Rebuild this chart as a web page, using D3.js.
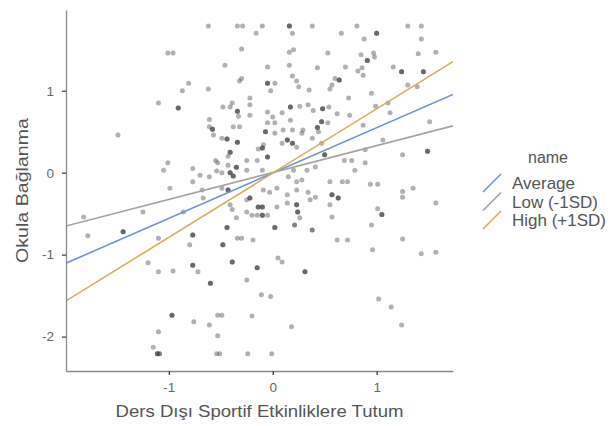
<!DOCTYPE html>
<html><head><meta charset="utf-8">
<script src="https://cdn.jsdelivr.net/npm/d3@7"></script>
<style>body{margin:0;background:#fff} text{font-family:"Liberation Sans",Arial,sans-serif}</style>
</head><body><svg id="c" width="616" height="426"></svg>
<script>
// ---- data ----
const xTicks = [-1, 0, 1];
const yTicks = [-2, -1, 0, 1];
const xLabel = "Ders Dışı Sportif Etkinliklere Tutum";
const yLabel = "Okula Bağlanma";
const legendTitle = "name";
const seriesNames = ["Average", "Low (-1SD)", "High (+1SD)"];
const seriesSlopes = [0.553, 0.328, 0.784];
const seriesIntercepts = [-0.004, 0.002, -0.005];
// points: [x, y, number of overlapping observations]
const points = [
[-1.01,1.46],[-0.96,1.46],[-0.81,1.09],[-0.87,1.00],[-0.91,0.79,3],[-1.10,0.85],
[-0.62,1.79],[-0.34,1.79],[-0.29,1.79],[-0.10,1.79],[0.16,1.79,3],[0.38,1.79],
[-0.16,1.70],[0.19,1.70],[-0.30,1.51],[0.16,1.47],[0.20,1.50],[-0.46,1.31],[-0.05,1.29],[0.16,1.31],[0.43,1.28],[-0.30,1.15],[-0.32,1.12],[-0.05,1.09,3],[0.02,1.09],[0.19,1.18],[0.23,1.12],[-0.62,1.02],[-0.02,1.00],[0.25,1.05],[0.35,1.01],
[0.81,1.79],[1.30,1.79],[1.43,1.79],[0.66,1.70],[1.00,1.70,3],[0.88,1.63],[1.43,1.63],[0.53,1.46],[0.85,1.44],[0.97,1.46],[0.98,1.41],[0.91,1.37,3],[1.40,1.45],[1.57,1.47],[0.70,1.29],[0.86,1.28],[0.82,1.24],[0.87,1.19],[1.16,1.29],[1.24,1.23,3],[1.45,1.23,3],[0.60,1.15],[0.64,1.13,3],[0.57,1.07],[0.55,1.02],[1.30,1.07],[1.39,1.05],[0.95,0.97],
[0.73,0.91],[0.99,0.81],[1.11,0.85],[1.13,0.73],[1.51,0.62],[0.87,0.58],[1.06,0.40],[0.89,0.28],[1.49,0.26,3],[1.25,0.22],[0.76,0.15],[0.89,0.12],[0.79,0.03],[0.94,-0.14],[1.01,-0.14],[1.35,-0.19],[1.25,-0.23],[1.25,-0.30],[1.57,-0.37],[1.01,-0.44],[1.05,-0.51,3],[0.95,-0.64],[1.25,-0.81],[0.96,-0.94],[1.43,-0.99],[1.57,-0.97],[0.74,0.70],
[-0.15,-1.16,3],[0.31,-1.21,3],[-0.25,-1.31],[-0.60,-1.35,3],[-0.11,-1.49],[-0.02,-1.51],[1.02,-1.54],[1.14,-1.64],[-0.53,-1.74],[-0.49,-1.74],[-0.20,-1.75],[-0.61,-1.86],[0.18,-1.88],[1.24,-1.86],[-0.53,-1.99],[-0.54,-2.21],[-0.51,-2.21],[-0.24,-2.21],[-0.01,-2.21],
[-1.49,0.46],[-1.82,-0.54],[-1.78,-0.77],[-1.44,-0.72,3],[-1.25,-0.48],[-1.20,-1.10],
[-1.10,-1.21],[-0.96,-1.20],[-0.77,-1.13,3],[-0.72,-1.21],[-0.97,-1.74,3],[-0.76,-1.82],[-1.10,-1.94],[-1.15,-2.13],[-1.11,-2.21,3],[-1.09,-2.21,2],
[-0.61,0.65],[-0.61,0.56],[-0.58,0.53,3],[-0.57,0.46],[-0.48,0.80],[-0.41,0.80],[-0.39,0.85],[-0.34,0.75,3],[-0.33,0.69],[-0.38,0.56],[-0.32,0.56],[-0.49,0.42],[-0.44,0.41,3],[-0.34,0.37,3],[-0.41,0.25,3],[-0.43,0.20],[-0.55,0.15],[-0.53,0.12],[-0.43,0.09],[-0.35,0.065,3],[-0.25,0.15],[-1.01,0.12],[-1.05,0.03],[-0.77,0.05],[-0.70,-0.03],[-0.61,-0.05],[-0.54,0.02],[-0.49,0.00],[-0.41,0.00,3],[-0.38,-0.04,3],[-0.25,0.03],
[-0.99,-0.19],[-0.77,-0.11],[-0.68,-0.21],[-0.67,-0.31],[-0.49,-0.19],[-0.43,-0.21,3],[-0.41,-0.39],[-0.39,-0.45],[-0.86,-0.48],[-1.10,-0.80],[-0.77,-0.76,3],[-0.80,-0.88],[-0.44,-0.67,3],[-0.48,-0.88,3],[-0.34,-0.80],[-0.30,-0.80],[-0.35,-0.55],[-0.39,-1.09,3],[-0.25,-0.48],[-0.25,-0.33],
[-0.22,0.91],[0.17,0.80,3],[0.26,0.81],[0.34,0.83],[0.39,0.76],[0.48,0.78,3],[0.54,0.80],[0.62,0.72],[-0.05,0.74],[0.00,0.68],[0.09,0.73],[-0.05,0.61],[0.02,0.61],[0.17,0.64],[0.47,0.62,3],[0.53,0.61],[-0.07,0.50,3],[0.02,0.48],[0.10,0.52],[0.19,0.52],[0.28,0.48],[0.29,0.52],[0.43,0.55,3],[0.44,0.50],[0.14,0.40,3],[0.19,0.36,3],[0.09,0.36],[0.38,0.42],[-0.09,0.34],[-0.14,0.29],[-0.10,0.30,3],[-0.05,0.19,3],[-0.15,0.15],[0.23,0.31],[0.47,0.36],[0.50,0.22,3],[0.33,0.03],[0.20,0.03],[0.41,0.07],[-0.10,0.03],[-0.22,0.83],[-0.22,0.70],[0.69,0.15],
[-0.22,-0.31,3],[-0.14,-0.42,3],[-0.10,-0.42,3],[-0.15,-0.52],[-0.10,-0.52,3],[-0.05,-0.52],[-0.09,-0.21],[-0.03,-0.24],[0.04,-0.42],[0.04,-0.19],[0.14,-0.27],[0.14,-0.37],[0.23,-0.11],[0.23,-0.21],[0.23,-0.39,3],[0.24,-0.48,3],[0.34,-0.24],[0.36,-0.33],[0.41,-0.30],[0.55,-0.11],[0.67,-0.11],[0.72,-0.11],[0.57,-0.27,3],[0.63,-0.31,3],[0.55,-0.39],[0.57,-0.54],[0.02,-0.67,3],[0.21,-0.64,2],[0.38,-0.70,2],[-0.19,-0.82],[0.72,-0.82],[0.62,-0.82],[0.05,-1.04],[0.09,-1.09],[-0.20,-0.52],[0.28,-0.09],[0.15,-0.05],[0.26,-0.55]
];

// ---- styles / layout ----
const seriesColors = ["#7093d6", "#a3a3a3", "#d9ad5e"];
const W = 616, H = 426;
const margin = {left: 66, top: 10, right: 163, bottom: 55};
const xDomain = [-1.99, 1.735], yDomain = [-2.42, 1.985];

const svg = d3.select("#c");
const x = d3.scaleLinear().domain(xDomain).range([margin.left, W - margin.right]);
const y = d3.scaleLinear().domain(yDomain).range([H - margin.bottom, margin.top]);

const defs = svg.append("defs");
defs.append("clipPath").attr("id", "clip")
  .append("rect").attr("x", margin.left).attr("y", margin.top)
  .attr("width", W - margin.left - margin.right).attr("height", H - margin.top - margin.bottom);

// points (repeat overlapping observations)
const pts = [];
points.forEach(p => { const n = p[2] || 1; for (let i = 0; i < n; i++) pts.push(p); });
svg.append("g").selectAll("circle").data(pts).join("circle")
  .attr("cx", d => x(d[0])).attr("cy", d => y(d[1])).attr("r", 2.5)
  .attr("fill", "#444").attr("fill-opacity", 0.42);

// regression lines
const lines = svg.append("g").attr("clip-path", "url(#clip)");
seriesNames.forEach((name, i) => {
  const ends = xDomain.map(v => [v, seriesIntercepts[i] + seriesSlopes[i] * v]);
  lines.append("path").attr("d", d3.line().x(d => x(d[0])).y(d => y(d[1]))(ends))
    .attr("fill", "none").attr("stroke", seriesColors[i]).attr("stroke-width", 1.6);
});

// axes
const fmt = d => d < 0 ? "-" + Math.abs(d) : String(d);
const xAxis = svg.append("g").attr("transform", `translate(0,${H - margin.bottom})`)
  .call(d3.axisBottom(x).tickValues(xTicks).tickFormat(fmt).tickSize(4).tickPadding(7).tickSizeOuter(0));
const yAxis = svg.append("g").attr("transform", `translate(${margin.left},0)`)
  .call(d3.axisLeft(y).tickValues(yTicks).tickFormat(fmt).tickSize(4).tickPadding(8).tickSizeOuter(0));
[xAxis, yAxis].forEach(a => {
  a.select(".domain").attr("stroke", "#8a8a8a").attr("stroke-width", 1.3);
  a.selectAll(".tick line").attr("stroke", "#444").attr("stroke-width", 1.3);
  a.selectAll(".tick text").attr("fill", "#666").attr("font-size", 13.5)
    .attr("font-family", "Liberation Sans, Arial, sans-serif");
});

// axis titles
svg.append("text").attr("x", (margin.left + W - margin.right) / 2).attr("y", 417)
  .attr("text-anchor", "middle").attr("fill", "#555").attr("font-size", 17)
  .attr("textLength", 288).attr("lengthAdjust", "spacingAndGlyphs").text(xLabel);
svg.append("text").attr("transform", `translate(28,${(margin.top + H - margin.bottom) / 2}) rotate(-90)`)
  .attr("text-anchor", "middle").attr("fill", "#555").attr("font-size", 17)
  .attr("textLength", 145).attr("lengthAdjust", "spacingAndGlyphs").text(yLabel);

// legend
const lg = svg.append("g").attr("transform", "translate(482,0)");
lg.append("text").attr("x", 66).attr("y", 163).attr("text-anchor", "middle")
  .attr("fill", "#555").attr("font-size", 16).text(legendTitle);
seriesNames.forEach((name, i) => {
  const cy = 183 + i * 18.5;
  lg.append("line").attr("x1", 1).attr("y1", cy + 9).attr("x2", 19).attr("y2", cy - 9)
    .attr("stroke", seriesColors[i]).attr("stroke-width", 1.6);
  lg.append("text").attr("x", 30).attr("y", cy + 6).attr("fill", "#555")
    .attr("font-size", 17).text(name);
});
</script></body></html>
